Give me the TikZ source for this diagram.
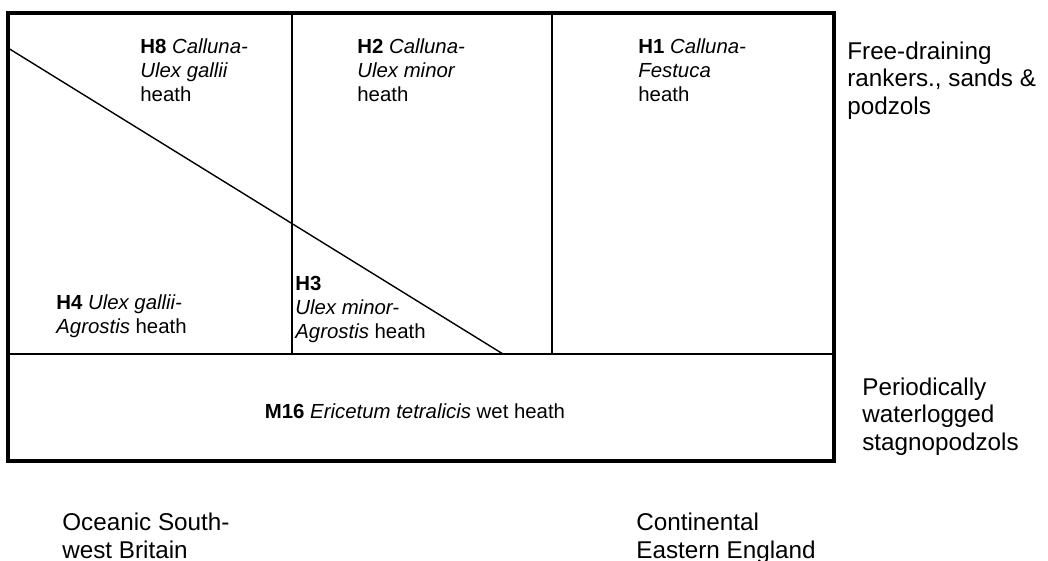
\documentclass[tikz,border=0pt]{standalone}
\usepackage{fontspec}
\setsansfont{Liberation Sans}

\begin{document}
\begin{tikzpicture}[
  x=0.02cm, y=-0.02cm,
  font=\sffamily,
  celltext/.style={anchor=base west, align=left, inner sep=0pt,
    font=\sffamily\fontsize{11.6}{13.6}\selectfont},
  sidetext/.style={anchor=base west, align=left, inner sep=0pt,
    font=\sffamily\fontsize{13.8}{15.4}\selectfont},
  divider/.style={line width=1pt},
]
\useasboundingbox (0,0) rectangle (1048,561);

% frame and the lines between the communities
\coordinate (tl) at (8,13);
\coordinate (br) at (834,461);
\coordinate (wl) at (8,354);
\coordinate (wr) at (834,354);
\draw[line width=1.8pt] (tl) rectangle (br);
\draw[divider] (wl) -- (wr);
\draw[divider] (292,13) -- (292,354);
\draw[divider] (552,13) -- (552,354);
\draw[line width=0.8pt] (8,48) -- (503,354);

% communities (anchor = baseline of last line)
\node[celltext] (h8) at (140,101) {\textbf{H8} \textit{Calluna-}\\\textit{Ulex gallii}\\heath};
\node[celltext] (h2) at (357,101) {\textbf{H2} \textit{Calluna-}\\\textit{Ulex minor}\\heath};
\node[celltext] (h1) at (638,101) {\textbf{H1} \textit{Calluna-}\\\textit{Festuca}\\heath};
\node[celltext] (h4) at (56,333) {\textbf{H4} \textit{Ulex gallii-}\\\textit{Agrostis} heath};
\node[celltext] (h3) at (295,338) {\textbf{H3}\\\textit{Ulex minor-}\\\textit{Agrostis} heath};
\node[celltext, anchor=base] (m16) at (415,418) {\textbf{M16} \textit{Ericetum tetralicis} wet heath};

% soils and climate
\node[sidetext] (free) at (847,114) {Free-draining\\rankers., sands \&\\podzols};
\node[sidetext] (wet) at (862,450) {Periodically\\waterlogged\\stagnopodzols};
\node[sidetext] (ocean) at (62,558) {Oceanic South-\\west Britain};
\node[sidetext] (cont) at (636,558) {Continental\\Eastern England};
\end{tikzpicture}
\end{document}
